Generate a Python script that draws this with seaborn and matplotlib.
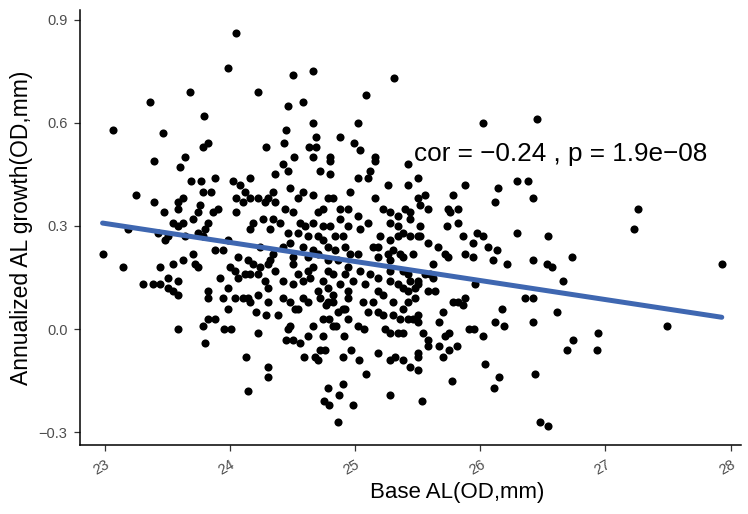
import numpy as np
import pandas as pd
import matplotlib
matplotlib.use("Agg")
import matplotlib.pyplot as plt
import seaborn as sns

# Base AL (x) and annualized AL growth (y)
base_al = [
    24.05, 23.98, 24.22, 24.50, 24.66, 25.31, 25.09, 23.68, 23.36, 23.79,
    23.06, 23.46, 23.78, 23.82, 23.64, 23.39, 24.46, 24.58, 24.66, 25.02,
    24.45, 24.69, 24.88, 24.29, 24.43, 24.63, 24.69, 24.99, 25.04, 24.51,
    24.66, 24.80, 25.16, 26.02, 26.45,
    23.60, 23.88, 23.69, 23.77, 24.02, 24.08, 24.12, 24.05, 24.10, 23.25,
    23.39, 23.58, 23.62, 23.78, 23.85, 23.76, 23.47, 23.58, 23.74, 23.86,
    23.90, 24.05, 23.70, 23.82, 23.54, 23.62, 23.58, 23.18, 23.42, 23.50,
    23.48, 23.64, 23.74, 23.80, 23.78, 23.98, 22.98, 23.88, 23.94, 23.70,
    24.06, 24.14, 23.14, 23.54, 23.62, 23.44, 23.72, 23.74, 24.00, 24.04,
    23.50, 23.58, 23.92, 24.06, 24.12, 23.30, 23.38, 23.44, 23.50, 23.54,
    23.58, 23.82, 23.82, 23.98, 23.94, 24.04, 24.10, 24.14,
    23.98, 23.58, 23.78, 23.82, 23.88, 23.95, 24.01, 23.80, 24.13, 24.14,
    24.21, 24.29, 24.38, 24.52, 24.54, 24.77, 24.86, 24.90, 24.92, 24.94,
    24.74, 24.79, 25.10, 25.18, 25.22, 25.30, 25.36, 25.42, 25.46, 25.38,
    24.22, 24.46, 24.48, 24.45, 24.50, 24.56, 24.62, 24.66, 24.74, 24.82,
    24.85, 24.91, 25.02, 25.07, 25.24, 25.28, 25.34, 25.38, 24.72, 24.76,
    24.59, 24.68, 24.70, 24.90, 24.97, 25.03, 25.18, 25.28, 25.32, 25.38,
    25.44, 24.30, 24.30, 25.09, 24.78, 24.90, 24.87, 24.75, 24.79, 24.98,
    25.28, 24.86,
    25.50, 25.50, 25.70, 25.86, 26.17, 26.61, 25.67, 26.12, 26.19, 26.42,
    25.54, 25.58, 25.58, 25.72, 25.75, 25.91, 25.95, 26.02, 26.74, 26.69,
    25.67, 25.75, 25.81, 25.50, 25.50, 25.70, 26.04, 25.50, 26.15, 26.11,
    26.44, 25.77, 25.53, 26.48, 26.54,
    26.94, 26.93, 27.49, 27.26, 27.23, 27.93,
    25.50, 25.88, 26.14, 26.29, 26.38, 26.12, 26.42, 25.78, 25.56, 25.50,
    25.52, 25.58, 25.74, 25.76, 25.82, 25.82, 25.73, 25.52, 25.50, 25.52,
    25.86, 25.97, 26.02, 26.29, 26.54, 25.58, 25.66, 25.94, 26.06, 26.13,
    25.72, 25.74, 25.88, 25.94, 26.10, 26.21, 26.42, 26.53, 26.57, 26.73,
    25.62, 25.56, 25.60, 25.62, 25.50, 25.50, 25.48, 25.58, 25.64, 25.96,
    26.66, 26.36, 26.42, 25.88, 25.82, 25.78, 25.48,
    24.42, 24.80, 25.16, 25.42, 24.46, 24.36, 24.72, 24.80, 25.02, 25.12,
    25.10, 25.42, 24.16, 25.26, 24.48, 24.34, 24.30, 24.22, 24.58, 24.66,
    24.78, 24.82, 24.96, 25.16, 24.54, 24.28, 24.36, 24.16, 24.44, 24.74,
    24.70, 24.88, 24.94, 25.02, 25.22, 25.28, 25.34, 25.40, 25.44, 24.50,
    24.18, 24.26, 24.34, 24.40, 24.56, 24.60, 24.66, 24.74, 24.80, 24.88,
    24.94, 25.10, 25.04, 25.28, 25.34, 25.44, 24.16, 24.32, 24.46, 24.54,
    24.62, 24.70, 24.74, 24.84, 24.90, 25.20, 25.28, 25.34, 25.38, 25.44,
    24.24, 24.48, 24.58, 24.66, 24.78, 24.84, 24.92, 25.02, 25.14, 25.18,
    25.26, 25.30, 25.36, 24.34, 24.32, 24.42, 24.50, 24.62, 24.70, 24.78,
    24.86, 24.96, 25.18, 25.28, 25.38, 25.46, 24.18, 24.24, 24.22, 24.30,
    24.36, 24.50, 24.66, 24.62, 24.78, 24.82, 24.94, 24.92, 25.04, 25.12,
    25.18, 25.28, 25.38, 25.42, 24.54, 24.16, 24.28, 24.42, 24.58, 24.64,
    24.74, 24.88, 24.98, 25.08, 25.28, 25.34, 25.44, 24.30, 24.50, 24.70,
    24.78, 24.82, 24.94, 25.18, 25.22, 25.38, 25.42, 24.22, 24.42, 24.58,
    24.62, 24.72, 24.78, 24.82, 24.94, 25.06, 25.14, 25.30, 25.42, 24.16,
    24.30, 24.48,
]

al_growth = [
    0.86, 0.76, 0.69, 0.74, 0.75, 0.73, 0.68, 0.69, 0.66, 0.62,
    0.58, 0.57, 0.53, 0.54, 0.50, 0.49, 0.65, 0.66, 0.60, 0.60,
    0.58, 0.56, 0.56, 0.53, 0.54, 0.53, 0.53, 0.54, 0.52, 0.50,
    0.50, 0.50, 0.50, 0.60, 0.61,
    0.47, 0.44, 0.43, 0.43, 0.43, 0.42, 0.40, 0.38, 0.37, 0.39,
    0.37, 0.37, 0.38, 0.40, 0.40, 0.36, 0.34, 0.35, 0.34, 0.34,
    0.35, 0.34, 0.32, 0.31, 0.31, 0.31, 0.30, 0.29, 0.28, 0.27,
    0.26, 0.27, 0.28, 0.29, 0.27, 0.26, 0.22, 0.23, 0.23, 0.22,
    0.21, 0.20, 0.18, 0.19, 0.20, 0.18, 0.19, 0.18, 0.18, 0.17,
    0.15, 0.14, 0.15, 0.15, 0.16, 0.13, 0.13, 0.13, 0.12, 0.11,
    0.10, 0.11, 0.09, 0.12, 0.09, 0.09, 0.09, 0.09,
    0.06, 0.00, 0.01, 0.03, 0.03, 0.00, 0.00, -0.04, -0.08, -0.18,
    0.05, 0.04, 0.04, 0.06, 0.06, 0.07, 0.05, 0.06, 0.06, 0.03,
    0.03, 0.03, 0.05, 0.05, 0.04, 0.04, 0.03, 0.03, 0.03, 0.06,
    -0.01, 0.00, 0.01, -0.03, -0.03, -0.04, -0.02, 0.01, -0.02, 0.01,
    0.01, -0.02, 0.01, 0.00, 0.00, -0.01, -0.01, -0.01, -0.06, -0.06,
    -0.08, -0.08, -0.09, -0.08, -0.06, -0.09, -0.07, -0.09, -0.08, -0.09,
    -0.11, -0.11, -0.14, -0.13, -0.17, -0.16, -0.19, -0.21, -0.22, -0.22,
    -0.19, -0.27,
    0.04, 0.02, 0.05, 0.07, 0.06, 0.05, 0.02, 0.02, 0.01, 0.02,
    -0.01, -0.03, -0.05, -0.02, -0.01, 0.00, 0.00, -0.02, -0.03, -0.06,
    -0.05, -0.06, -0.05, -0.07, -0.08, -0.08, -0.10, -0.12, -0.14, -0.17,
    -0.13, -0.15, -0.21, -0.27, -0.28,
    -0.01, -0.06, 0.01, 0.35, 0.29, 0.19,
    0.44, 0.42, 0.41, 0.43, 0.43, 0.37, 0.38, 0.39, 0.39, 0.38,
    0.36, 0.35, 0.35, 0.34, 0.35, 0.31, 0.30, 0.30, 0.27, 0.27,
    0.27, 0.28, 0.27, 0.28, 0.27, 0.25, 0.24, 0.25, 0.24, 0.23,
    0.22, 0.21, 0.22, 0.21, 0.20, 0.19, 0.20, 0.19, 0.18, 0.21,
    0.19, 0.16, 0.16, 0.15, 0.14, 0.13, 0.12, 0.11, 0.11, 0.13,
    0.14, 0.09, 0.09, 0.09, 0.08, 0.08, 0.09,
    0.48, 0.49, 0.49, 0.48, 0.46, 0.45, 0.46, 0.45, 0.44, 0.46,
    0.44, 0.42, 0.44, 0.42, 0.41, 0.40, 0.38, 0.38, 0.40, 0.39,
    0.38, 0.38, 0.40, 0.38, 0.38, 0.37, 0.37, 0.38, 0.35, 0.35,
    0.34, 0.35, 0.35, 0.33, 0.35, 0.34, 0.33, 0.35, 0.34, 0.34,
    0.31, 0.32, 0.32, 0.31, 0.31, 0.30, 0.31, 0.30, 0.30, 0.32,
    0.30, 0.31, 0.29, 0.31, 0.30, 0.32, 0.29, 0.29, 0.28, 0.28,
    0.27, 0.27, 0.26, 0.27, 0.27, 0.27, 0.26, 0.27, 0.28, 0.27,
    0.24, 0.25, 0.24, 0.23, 0.24, 0.23, 0.24, 0.22, 0.24, 0.24,
    0.22, 0.23, 0.22, 0.22, 0.20, 0.24, 0.21, 0.21, 0.22, 0.20,
    0.20, 0.22, 0.21, 0.20, 0.21, 0.22, 0.19, 0.18, 0.16, 0.19,
    0.17, 0.19, 0.18, 0.17, 0.17, 0.16, 0.18, 0.16, 0.17, 0.16,
    0.15, 0.17, 0.17, 0.16, 0.16, 0.16, 0.14, 0.14, 0.14, 0.15,
    0.14, 0.13, 0.14, 0.13, 0.14, 0.13, 0.14, 0.12, 0.13, 0.11,
    0.12, 0.10, 0.11, 0.11, 0.10, 0.12, 0.11, 0.10, 0.09, 0.09,
    0.08, 0.09, 0.08, 0.08, 0.09, 0.08, 0.08, 0.08, 0.08, 0.08,
    0.08, 0.08,
]

stat_label = "cor = \u22120.24 , p = 1.9e\u221208"

df = pd.DataFrame({"base_al": base_al, "al_growth": al_growth})

sns.set_theme(style="white")
plt.rcParams["font.family"] = ["Liberation Sans", "DejaVu Sans"]
plt.rcParams["axes.unicode_minus"] = True

fig = plt.figure(figsize=(7.48, 5.14), dpi=100)
ax = fig.add_axes([0.107, 0.134, 0.883, 0.846])

sns.regplot(
    data=df, x="base_al", y="al_growth", ax=ax, ci=None,
    scatter_kws={"s": 34, "color": "black", "linewidths": 0, "alpha": 1},
    line_kws={"color": "#3F67B1", "linewidth": 3.6},
)

ax.text(25.47, 0.51, stat_label, fontsize=18.8, color="black", va="center", ha="left")

ax.set_xlim(22.8, 28.08)
ax.set_ylim(-0.337, 0.927)
ax.set_xticks([23, 24, 25, 26, 27, 28])
ax.set_yticks([-0.3, 0.0, 0.3, 0.6, 0.9])
ax.set_yticklabels(["\u22120.3", "0.0", "0.3", "0.6", "0.9"])
ax.set_xlabel("Base AL(OD,mm)", fontsize=16, color="black")
ax.xaxis.set_label_coords(0.571, -0.085)
ax.set_ylabel("Annualized AL growth(OD,mm)", fontsize=16.5, color="black")

for side in ["top", "right"]:
    ax.spines[side].set_visible(False)
for side in ["left", "bottom"]:
    ax.spines[side].set_color("black")
    ax.spines[side].set_linewidth(1.1)

ax.tick_params(axis="both", which="major", length=4, width=0.9, color="#333333",
               labelsize=10.5, labelcolor="#4D4D4D", pad=5, bottom=True, left=True)
plt.setp(ax.get_xticklabels(), rotation=30, ha="right", rotation_mode="anchor")

fig.savefig("out.png", dpi=100)
plt.close(fig)
